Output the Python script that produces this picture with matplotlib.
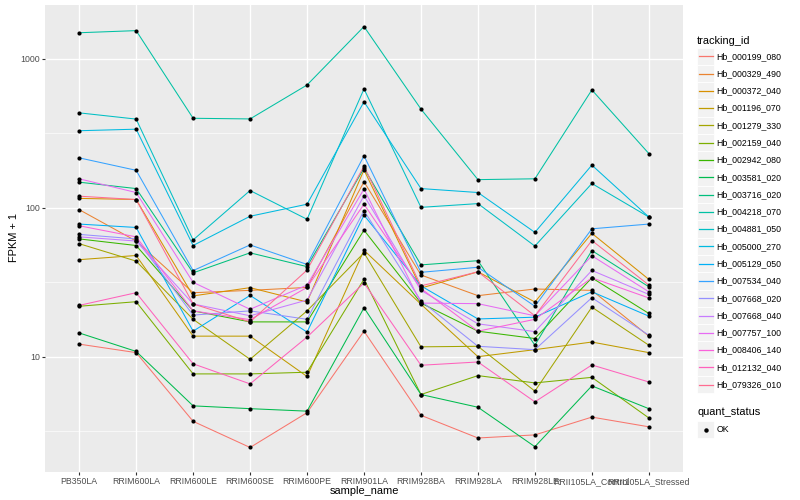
import numpy as np
import matplotlib.pyplot as plt
from matplotlib.lines import Line2D
from matplotlib.patches import Rectangle

plt.rcParams["font.family"] = ["Liberation Sans", "DejaVu Sans"]

sample_names = ["PB350LA", "RRIM600LA", "RRIM600LE", "RRIM600SE", "RRIM600PE",
                "RRIM901LA", "RRIM928BA", "RRIM928LA", "RRIM928LE",
                "RRII105LA_Control", "RRII105LA_Stressed"]

tracking_ids = ["Hb_000199_080", "Hb_000329_490", "Hb_000372_040", "Hb_001196_070",
                "Hb_001279_330", "Hb_002159_040", "Hb_002942_080", "Hb_003581_020",
                "Hb_003716_020", "Hb_004218_070", "Hb_004881_050", "Hb_005000_270",
                "Hb_005129_050", "Hb_007534_040", "Hb_007668_020", "Hb_007668_040",
                "Hb_007757_100", "Hb_008406_140", "Hb_012132_040", "Hb_079326_010"]

# FPKM + 1, one list per tracking_id, in sample_names order
hb_000199_080 = [12.2, 10.7, 3.7, 2.47, 4.23, 14.9, 4.06, 2.86, 3.0, 3.95, 3.4]
hb_000329_490 = [97.5, 60, 27, 28, 29.3, 150, 35.5, 25.8, 28.6, 28, 13.8]
hb_000372_040 = [116, 114, 25.7, 29.2, 23.4, 180, 29, 37.3, 23.4, 67.6, 33.2]
hb_001196_070 = [45, 48, 13.8, 13.8, 7.4, 52, 22.6, 10.05, 11.2, 12.6, 10.7]
hb_001279_330 = [57.6, 44, 17.9, 9.65, 20.4, 50, 11.7, 11.8, 5.9, 21.6, 12]
hb_002159_040 = [21.9, 23.5, 7.7, 7.7, 7.9, 33.3, 5.6, 7.5, 6.7, 7.3, 3.9]
hb_002942_080 = [62, 56, 20.4, 17.2, 17.2, 71, 23, 14.9, 13.3, 34, 19.6]
hb_003581_020 = [14.5, 10.9, 4.7, 4.5, 4.33, 21.4, 5.6, 4.6, 2.5, 6.4, 4.5]
hb_003716_020 = [149, 135, 36.7, 50, 40.4, 185, 41.5, 44.3, 12, 51.8, 29.6]
hb_004218_070 = [1500, 1550, 400, 396, 669, 1650, 461, 155, 157, 620, 232]
hb_004881_050 = [435, 395, 61, 131, 84, 630, 101, 107, 55.5, 146, 87]
hb_005000_270 = [330, 338, 56, 88, 106, 516, 135, 127, 68.6, 194, 87]
hb_005129_050 = [78, 74, 14.9, 25.9, 14.7, 89.5, 30, 18, 18.5, 27.4, 18.8]
hb_007534_040 = [217, 179, 38, 56.5, 41.8, 224, 37, 40, 21.9, 72.5, 78]
hb_007668_020 = [66.5, 62, 19.1, 20.4, 17.9, 96, 23.8, 11.8, 11.2, 25, 14]
hb_007668_040 = [64, 60, 22.7, 18.9, 24.1, 121, 28, 16.7, 14.8, 38.1, 26.3]
hb_007757_100 = [157, 127, 31.7, 20.9, 30.4, 134, 23, 22.8, 18.9, 47.8, 27.4]
hb_008406_140 = [76, 64, 20.4, 17.8, 29.3, 106, 28.8, 14.9, 17.9, 34, 24.9]
hb_012132_040 = [22.2, 27, 9.0, 6.6, 13.6, 31.4, 8.8, 9.26, 5.0, 8.84, 6.8]
hb_079326_010 = [120, 114, 22.7, 17.2, 38.3, 191, 30, 37.3, 18.9, 60.5, 30.4]

fpkm = [hb_000199_080, hb_000329_490, hb_000372_040, hb_001196_070, hb_001279_330,
        hb_002159_040, hb_002942_080, hb_003581_020, hb_003716_020, hb_004218_070,
        hb_004881_050, hb_005000_270, hb_005129_050, hb_007534_040, hb_007668_020,
        hb_007668_040, hb_007757_100, hb_008406_140, hb_012132_040, hb_079326_010]

quant_status = ["OK"]

# ggplot2 default hue palette for 20 levels
colors = ["#F8766D", "#EA8331", "#D89000", "#C09B00", "#A3A500", "#7CAE00", "#39B600",
          "#00BB4E", "#00BF7D", "#00C1A3", "#00BFC4", "#00BAE0", "#00B0F6", "#35A2FF",
          "#9590FF", "#C77CFF", "#E76BF3", "#FA62DB", "#FF62BC", "#FF6C91"]

W, H = 800, 500
fig = plt.figure(figsize=(8, 5), dpi=100)
ax = fig.add_axes([45 / W, 28 / H, 638 / W, 467 / H])
ax.set_facecolor("#EBEBEB")
for s in ax.spines.values():
    s.set_visible(False)

x = np.arange(len(sample_names))
for vals, c in zip(fpkm, colors):
    ax.plot(x, vals, color=c, lw=0.75, zorder=2)
for vals in fpkm:
    ax.scatter(x, vals, color="black", s=9, zorder=3, linewidths=0)

ax.set_yscale("log")
ax.set_ylim(1.691, 2303)
ax.set_xlim(-0.6, len(sample_names) - 1 + 0.6)
ax.set_xticks(x)
ax.set_xticklabels(sample_names)
ax.set_yticks([10, 100, 1000])
ax.set_yticklabels(["10", "100", "1000"])
ax.set_yticks([10 ** 0.5, 10 ** 1.5, 10 ** 2.5], minor=True)
ax.set_xticks([], minor=True)
ax.tick_params(which="major", length=2.2, width=0.8, color="#333333",
               labelsize=6.34, labelcolor="#4D4D4D", pad=1.2)
ax.tick_params(which="minor", length=0)
ax.grid(which="major", color="white", lw=1.0)
ax.grid(which="minor", axis="y", color="white", lw=0.45)
ax.set_axisbelow(True)

fig.text(14 / W, 1 - 238 / H, "FPKM + 1", rotation=90, ha="center", va="center",
         fontsize=7.92, color="black")
fig.text(364 / W, 1 - 490.5 / H, "sample_name", ha="center", va="center",
         fontsize=7.92, color="black")


def fx(px):
    return px / W


def fy(py):
    return 1 - py / H


# legend: tracking_id
fig.text(fx(697), fy(40.5), "tracking_id", ha="left", va="center", fontsize=7.92)
key = 17.28
for i, (tid, c) in enumerate(zip(tracking_ids, colors)):
    yc = 56.3 + i * key
    fig.add_artist(Rectangle((fx(697), fy(yc + key / 2)), key / W, key / H,
                             facecolor="#F2F2F2", edgecolor="white", lw=0.6))
    fig.add_artist(Line2D([fx(698.5), fx(712.5)], [fy(yc), fy(yc)], color=c, lw=0.9))
    fig.text(fx(716.7), fy(yc), tid, ha="left", va="center", fontsize=6.34)

# legend: quant_status
fig.text(fx(697), fy(412.3), "quant_status", ha="left", va="center", fontsize=7.92)
yc = 429.5
fig.add_artist(Rectangle((fx(697), fy(yc + key / 2)), key / W, key / H,
                         facecolor="#F2F2F2", edgecolor="white", lw=0.6))
fig.add_artist(Line2D([fx(705.6)], [fy(yc)], marker="o", ms=2.2, color="black", lw=0))
fig.text(fx(716.7), fy(yc), quant_status[0], ha="left", va="center", fontsize=6.34)

fig.savefig("out.png", dpi=100)
